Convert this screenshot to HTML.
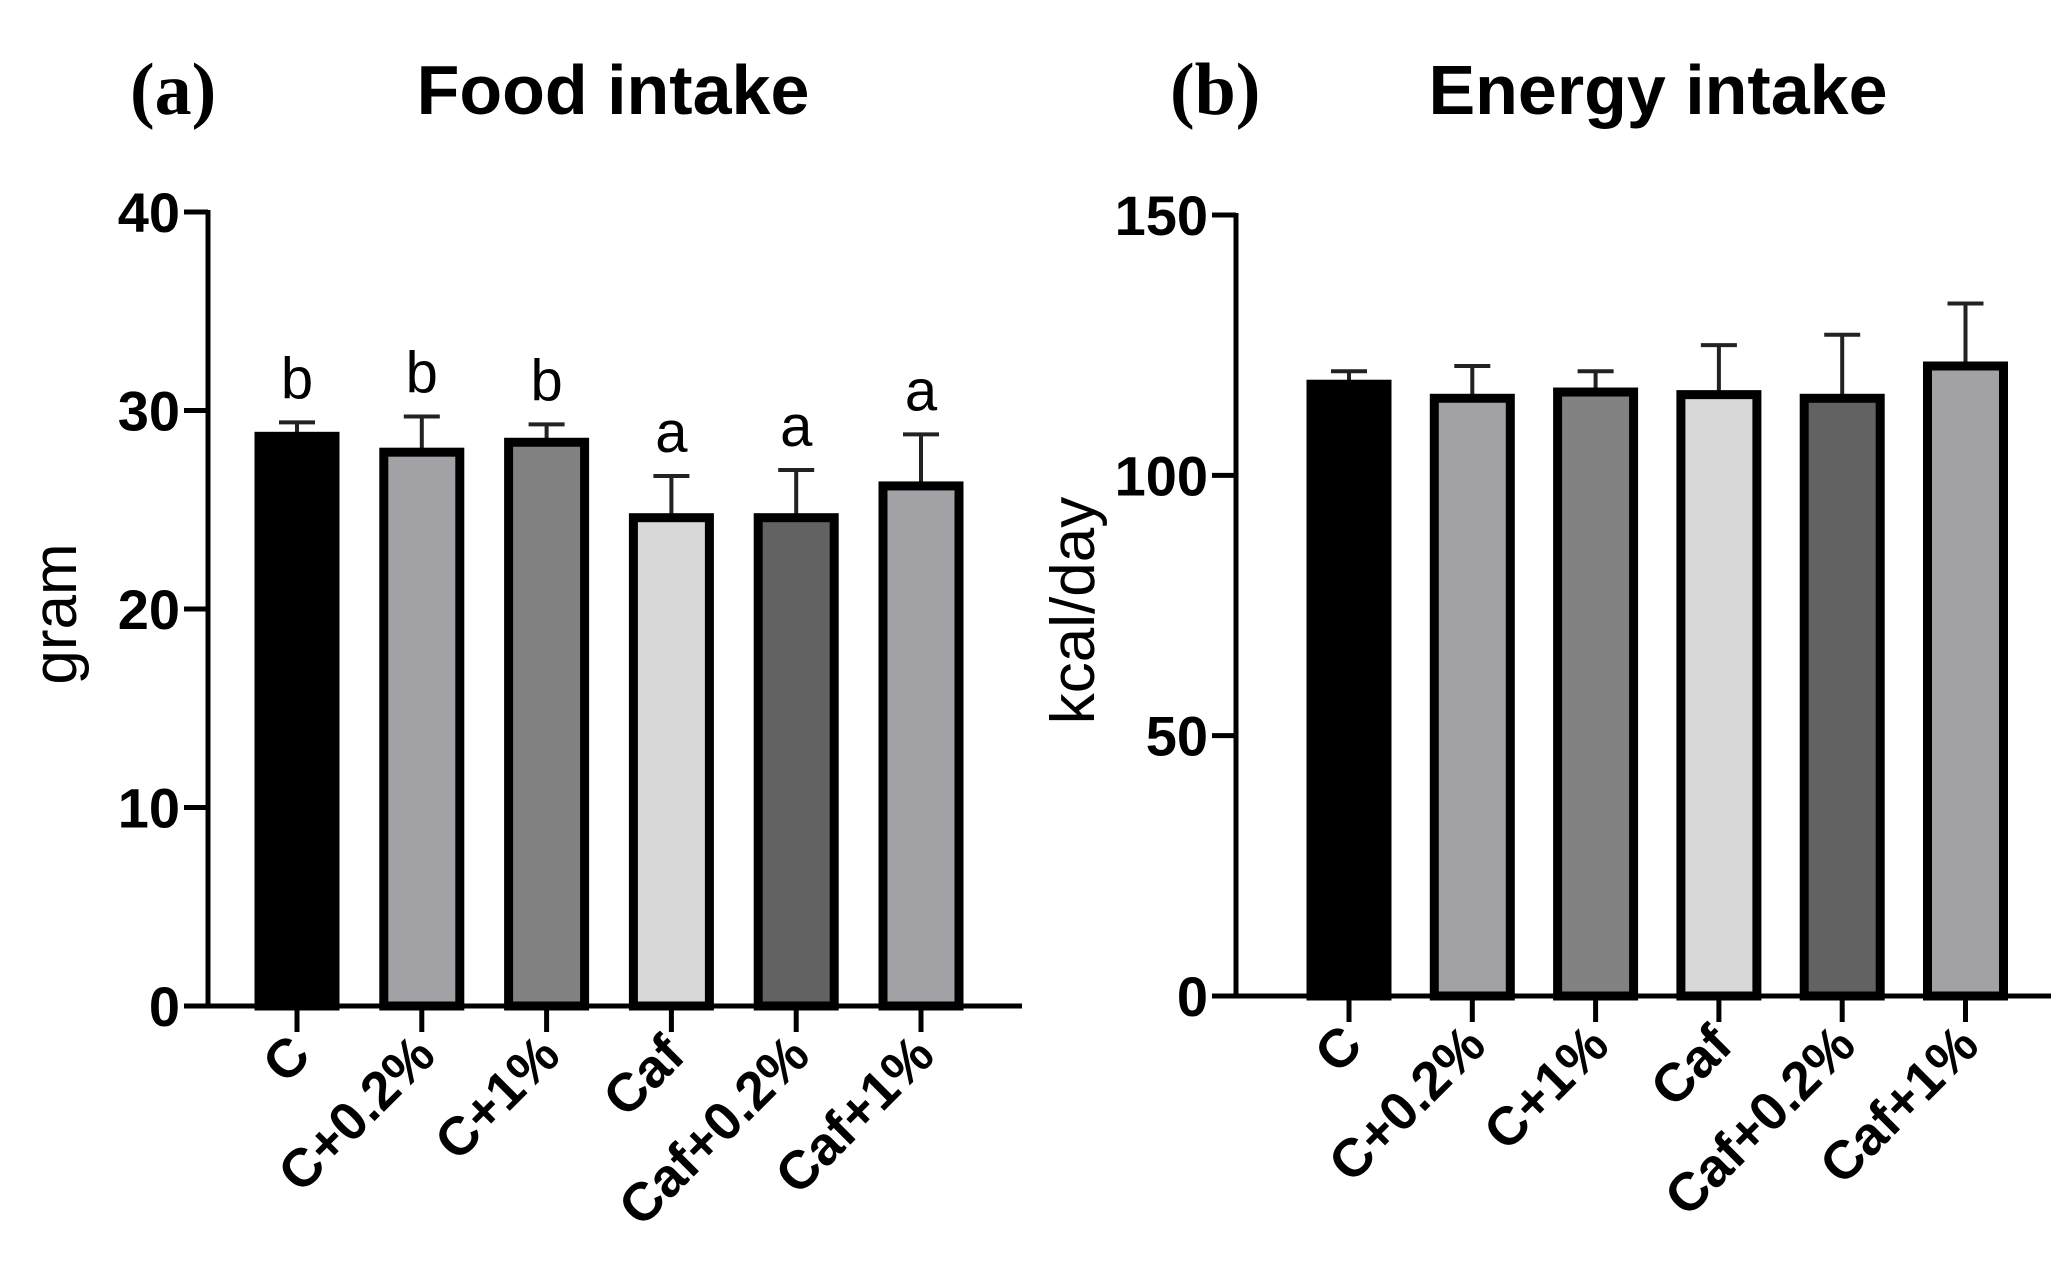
<!DOCTYPE html>
<html><head><meta charset="utf-8"><style>
html,body{margin:0;padding:0;background:#fff}
svg{display:block}
text{font-family:"Liberation Sans",sans-serif}
</style></head><body>
<svg id="c" width="2068" height="1277" viewBox="0 0 2068 1277" xmlns="http://www.w3.org/2000/svg">
<text x="130" y="114" font-weight="bold" font-size="74" style="font-family:'Liberation Serif',serif">(a)</text>
<text x="613" y="114" text-anchor="middle" font-weight="bold" font-size="70">Food intake</text>
<text x="1170" y="114" font-weight="bold" font-size="74" style="font-family:'Liberation Serif',serif">(b)</text>
<text x="1658" y="114" text-anchor="middle" font-weight="bold" font-size="70">Energy intake</text>
<g id="pa"></g><g id="pb"></g>
</svg>
<script>
const categories=["C","C+0.2%","C+1%","Caf","Caf+0.2%","Caf+1%"];
const fills=["#000000","#a2a2a6","#828282","#d8d8d8","#626262","#a2a2a6"];
const foodMeans=[28.7,27.9,28.4,24.6,24.6,26.2];
const foodErr=[0.7,1.8,0.9,2.1,2.4,2.6];
const foodLetters=["b","b","b","a","a","a"];
const foodTicks=[0,10,20,30,40];
const energyMeans=[117.5,114.8,116,115.5,114.8,121];
const energyErr=[2.5,6.2,4,9.5,12.2,12];
const energyTicks=[0,50,100,150];
const NS="http://www.w3.org/2000/svg";
function mk(p,tag,a,txt){const e=document.createElementNS(NS,tag);for(const k in a)e.setAttribute(k,a[k]);if(txt!==undefined)e.textContent=txt;p.appendChild(e);return e;}
function panel(g,cfg){
  const {ax,y0,yTop,max,xEnd,c0,step,means,errs,ticks,letters,ylabel,ylx,pre}=cfg;
  const y=v=>y0-(v/max)*(y0-yTop);
  const x=i=>c0+i*step;
  const bw=76;
  means.forEach((m,i)=>{
    const eb=mk(g,'line',{x1:x(i),x2:x(i),y1:y(m),y2:y(m+errs[i]),stroke:'#222','stroke-width':4});
    
    
    const ec=mk(g,'line',{x1:x(i)-18,x2:x(i)+18,y1:y(m+errs[i]),y2:y(m+errs[i]),stroke:'#222','stroke-width':4});
    
    
    const r=mk(g,'rect',{x:x(i)-bw/2,y:y(m),width:bw,height:y0-y(m),fill:fills[i],stroke:'#000','stroke-width':9});
    
    
    if(letters){const t=mk(g,'text',{x:x(i),y:y(m+errs[i])-24,'text-anchor':'middle','font-size':58},letters[i]);
      
      }
    const tk=mk(g,'line',{x1:x(i),x2:x(i),y1:y0,y2:y0+26,stroke:'#000','stroke-width':5});
    
    
    const lb=mk(g,'text',{x:x(i)+16,y:y0+52,'text-anchor':'end','font-size':54,'font-weight':'bold',transform:`rotate(-45 ${x(i)+16} ${y0+52})`},categories[i]);
    
    
  });
  const ya=mk(g,'line',{x1:ax,x2:ax,y1:yTop-2,y2:y0+2,stroke:'#000','stroke-width':5});
  
  
  const xa=mk(g,'line',{x1:ax-2,x2:xEnd,y1:y0,y2:y0,stroke:'#000','stroke-width':5});
  
  
  ticks.forEach(v=>{
    const l=mk(g,'line',{x1:ax-24,x2:ax,y1:y(v),y2:y(v),stroke:'#000','stroke-width':5});
    
    
    const t=mk(g,'text',{x:ax-28,y:y(v)+20,'text-anchor':'end','font-size':56,'font-weight':'bold'},String(v));
    
    
  });
  const yl=mk(g,'text',{x:ylx,y:(y0+yTop)/2+5,'text-anchor':'middle','font-size':62,transform:`rotate(-90 ${ylx} ${(y0+yTop)/2+5})`},ylabel);
  
  
}
panel(document.getElementById('pa'),{ax:208,y0:1006,yTop:212,max:40,xEnd:1022,c0:297,step:124.8,means:foodMeans,errs:foodErr,ticks:foodTicks,letters:foodLetters,ylabel:'gram',ylx:76,pre:'food-'});
panel(document.getElementById('pb'),{ax:1236,y0:996,yTop:215,max:150,xEnd:2051,c0:1349,step:123.3,means:energyMeans,errs:energyErr,ticks:energyTicks,letters:null,ylabel:'kcal/day',ylx:1094,pre:'energy-'});
</script>
</body></html>
